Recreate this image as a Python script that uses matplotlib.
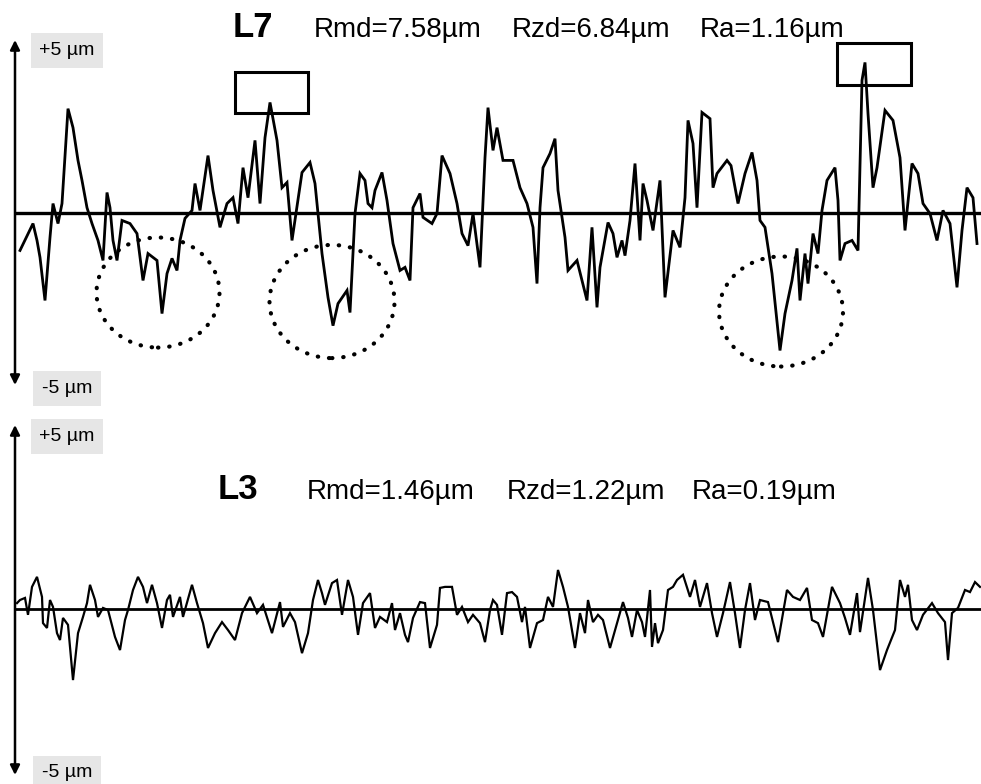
import numpy as np
import matplotlib
matplotlib.use("Agg")
import matplotlib.pyplot as plt
from matplotlib.patches import Ellipse, Rectangle

plt.rcParams['font.family'] = ['Liberation Sans', 'DejaVu Sans']

# L7 profile: position along trace, height in um
top_x = [20, 33, 37, 40, 45, 50, 53, 58, 62, 68, 73, 78, 82, 87, 92, 98, 103, 107, 110, 113,
         117, 122, 130, 137, 143, 148, 157, 162, 167, 172, 177, 180, 185, 192, 195, 200, 208, 213, 220, 227,
         233, 238, 243, 248, 255, 260, 265, 270, 277, 282, 287, 292, 302, 310, 315, 322, 328, 333, 338, 347,
         350, 355, 360, 365, 368, 372, 375, 382, 387, 393, 400, 405, 410, 413, 420, 423, 432, 437, 442, 450,
         457, 462, 468, 473, 480, 485, 488, 493, 497, 503, 513, 520, 527, 533, 537, 540, 543, 550, 555, 558,
         565, 568, 577, 582, 587, 592, 597, 600, 608, 613, 617, 622, 625, 630, 635, 640, 643, 647, 653, 660,
         665, 673, 680, 685, 688, 693, 697, 702, 710, 713, 717, 727, 731, 738, 745, 752, 757, 760, 765, 772,
         780, 785, 792, 797, 800, 805, 808, 813, 818, 822, 827, 835, 838, 840, 845, 852, 858, 862, 865, 868,
         873, 877, 885, 893, 900, 905, 912, 918, 923, 930, 937, 943, 950, 957, 962, 967, 973, 977]
top_z = [-1.10, -0.32, -0.81, -1.30, -2.55, -0.72, 0.26, -0.32, 0.26, 3.01, 2.46, 1.51, 0.93, 0.14, -0.32, -0.81, -1.39, 0.58, 0.14, -0.81,
         -1.39, -0.23, -0.32, -0.61, -1.97, -1.19, -1.39, -2.93, -1.77, -1.33, -1.68, -0.81, -0.17, 0.06, 0.84, 0.06, 1.65, 0.64, -0.43, 0.26,
         0.43, -0.32, 1.30, 0.43, 2.09, 0.26, 2.17, 3.19, 2.09, 0.72, 0.87, -0.81, 1.16, 1.45, 0.84, -1.19, -2.46, -3.28, -2.64, -2.26,
         -2.90, -0.03, 1.13, 0.93, 0.26, 0.14, 0.64, 1.16, 0.35, -0.90, -1.68, -1.59, -1.97, 0.14, 0.55, -0.14, -0.32, -0.03, 1.65, 1.13,
         0.26, -0.61, -0.96, -0.03, -1.59, 1.59, 3.04, 1.80, 2.46, 1.51, 1.51, 0.72, 0.26, -0.43, -2.06, 0.14, 1.30, 1.71, 2.14, 0.64,
         -0.72, -1.68, -1.39, -1.97, -2.55, -0.43, -2.75, -1.59, -0.29, -0.61, -1.30, -0.81, -1.25, -0.23, 1.42, -0.81, 0.84, 0.35, -0.52, 0.93,
         -2.46, -0.52, -1.01, 0.43, 2.67, 2.00, 0.14, 2.90, 2.72, 0.72, 1.13, 1.51, 1.36, 0.26, 1.13, 1.74, 0.93, -0.23, -0.43, -1.77,
         -4.00, -2.93, -1.97, -1.04, -2.55, -1.19, -2.06, -0.61, -1.19, 0.06, 0.93, 1.30, 0.35, -1.39, -0.90, -0.81, -1.10, 3.83, 4.35, 2.87,
         0.72, 1.30, 2.96, 2.67, 1.59, -0.52, 1.42, 1.13, 0.26, -0.03, -0.81, 0.06, -0.32, -2.17, -0.52, 0.72, 0.43, -0.90]

# L3 profile
bot_x = [17, 20, 25, 28, 32, 37, 42, 43, 47, 50, 53, 57, 60, 63, 68, 73, 78, 83, 87, 90,
         95, 98, 103, 108, 115, 120, 125, 128, 133, 138, 143, 147, 152, 157, 162, 167, 170, 173, 180, 183,
         192, 197, 203, 208, 215, 222, 228, 235, 242, 250, 257, 263, 272, 280, 283, 290, 295, 302, 308, 313,
         318, 322, 325, 332, 337, 342, 348, 353, 358, 363, 370, 375, 380, 387, 392, 395, 400, 405, 408, 413,
         420, 425, 430, 437, 440, 445, 452, 457, 462, 468, 473, 480, 485, 490, 493, 497, 502, 507, 512, 517,
         522, 525, 530, 537, 543, 548, 553, 558, 563, 568, 575, 580, 585, 588, 593, 598, 603, 610, 617, 623,
         628, 632, 637, 642, 645, 650, 652, 655, 658, 663, 668, 673, 677, 683, 690, 695, 700, 707, 712, 717,
         723, 730, 735, 740, 745, 750, 755, 760, 768, 773, 778, 783, 787, 793, 800, 807, 812, 818, 823, 832,
         840, 845, 850, 857, 860, 868, 873, 880, 887, 895, 900, 905, 908, 912, 917, 923, 932, 938, 945, 948,
         952, 958, 965, 970, 975, 980]
bot_z = [0.17, 0.26, 0.32, -0.17, 0.64, 0.93, 0.35, -0.41, -0.55, 0.26, 0.06, -0.70, -0.90, -0.26, -0.46, -2.06, -0.70, -0.23, 0.17, 0.70,
         0.26, -0.23, 0.03, -0.03, -0.81, -1.19, -0.32, -0.03, 0.55, 0.93, 0.64, 0.17, 0.70, 0.17, -0.55, 0.26, 0.41, -0.23, 0.35, -0.23,
         0.70, 0.17, -0.41, -1.13, -0.70, -0.38, -0.61, -0.90, -0.12, 0.35, -0.12, 0.12, -0.70, 0.20, -0.52, -0.12, -0.38, -1.28, -0.70, 0.26,
         0.84, 0.46, 0.12, 0.75, 0.84, -0.17, 0.84, 0.35, -0.75, 0.17, 0.46, -0.55, -0.23, -0.38, 0.17, -0.61, -0.12, -0.75, -0.96, -0.26,
         0.20, 0.17, -1.13, -0.46, 0.61, 0.64, 0.64, -0.17, 0.06, -0.38, -0.17, -0.41, -0.96, -0.03, 0.26, 0.12, -0.75, 0.46, 0.49, 0.35,
         -0.38, 0.06, -1.13, -0.41, -0.32, 0.35, 0.06, 1.13, 0.64, 0.06, -1.13, -0.12, -0.70, 0.26, -0.38, -0.17, -0.32, -1.13, -0.41, 0.20,
         -0.26, -0.81, -0.03, -0.38, -0.81, 0.55, -1.10, -0.41, -0.99, -0.61, 0.55, 0.64, 0.84, 0.99, 0.35, 0.84, 0.06, 0.75, -0.12, -0.81,
         -0.12, 0.78, -0.12, -1.13, -0.03, 0.75, -0.32, 0.26, 0.20, -0.38, -0.96, -0.12, 0.55, 0.35, 0.26, 0.61, -0.32, -0.41, -0.81, 0.64,
         0.17, -0.26, -0.75, 0.46, -0.67, 0.90, -0.03, -1.77, -1.19, -0.61, 0.84, 0.35, 0.70, -0.32, -0.61, -0.17, 0.17, -0.12, -0.38, -1.48,
         -0.12, 0.03, 0.55, 0.49, 0.78, 0.64]

top_stats = ["Rmd=7.58µm", "Rzd=6.84µm", "Ra=1.16µm"]
bot_stats = ["Rmd=1.46µm", "Rzd=1.22µm", "Ra=0.19µm"]

fig = plt.figure(figsize=(9.81, 7.84), dpi=100)
ax1 = fig.add_axes([15/981, 399/784, 966/981, 345/784])
ax2 = fig.add_axes([15/981, 9/784, 966/981, 350/784])

for ax, xs, zs, lo, hi, lw in [(ax1, top_x, top_z, -5, 5, 2.0), (ax2, bot_x, bot_z, -4.81, 5.33, 1.6)]:
    ax.set_xlim(15, 981)
    ax.set_ylim(lo, hi)
    ax.axis('off')
    ax.axhline(0, color='black', lw=2.4 if ax is ax1 else 2.0)
    ax.plot(xs, zs, color='black', lw=lw, solid_joinstyle='miter')
    ax.annotate('', xy=(15, hi), xytext=(15, lo), arrowprops=dict(arrowstyle='<|-|>', color='black', lw=1.8,
                mutation_scale=14, shrinkA=0, shrinkB=0), annotation_clip=False)

box = dict(boxstyle='square,pad=0.45', facecolor='#e6e6e6', edgecolor='none')
ax1.text(67, 4.70, '+5 µm', fontsize=14, ha='center', va='center', bbox=box, clip_on=False)
ax1.text(67, -5.1, '-5 µm', fontsize=14, ha='center', va='center', bbox=box, clip_on=False)
ax2.text(67, 4.99, '+5 µm', fontsize=14, ha='center', va='center', bbox=box, clip_on=False)
ax2.text(67, -4.75, '-5 µm', fontsize=14, ha='center', va='center', bbox=box, clip_on=False)

# titles
ax1.text(253, 5.09, 'L7', fontsize=25, fontweight='bold', ha='center', va='baseline', clip_on=False)
for xp, s in zip([314, 512, 700], top_stats):
    ax1.text(xp, 5.09, s, fontsize=20, ha='left', va='baseline', clip_on=False)
ax2.text(238, 3.19, 'L3', fontsize=25, fontweight='bold', ha='center', va='baseline')
for xp, s in zip([307, 507, 692], bot_stats):
    ax2.text(xp, 3.19, s, fontsize=20, ha='left', va='baseline')

# highlighted peaks and valleys
for cx, cz, w, h in [(158, -2.32, 123, 3.19), (332, -2.58, 125, 3.28), (781, -2.87, 124, 3.19)]:
    ax1.add_patch(Ellipse((cx, cz), w, h, fill=False, edgecolor='black', lw=3,
                          linestyle=(0, (0.1, 2.6)), capstyle='round', clip_on=False))
for rx, rz, rw, rh in [(235, 2.87, 73, 1.19), (837, 3.71, 74, 1.19)]:
    ax1.add_patch(Rectangle((rx, rz), rw, rh, fill=False, edgecolor='black', lw=2.2, clip_on=False))

fig.savefig('out.png', dpi=100, facecolor='white')
